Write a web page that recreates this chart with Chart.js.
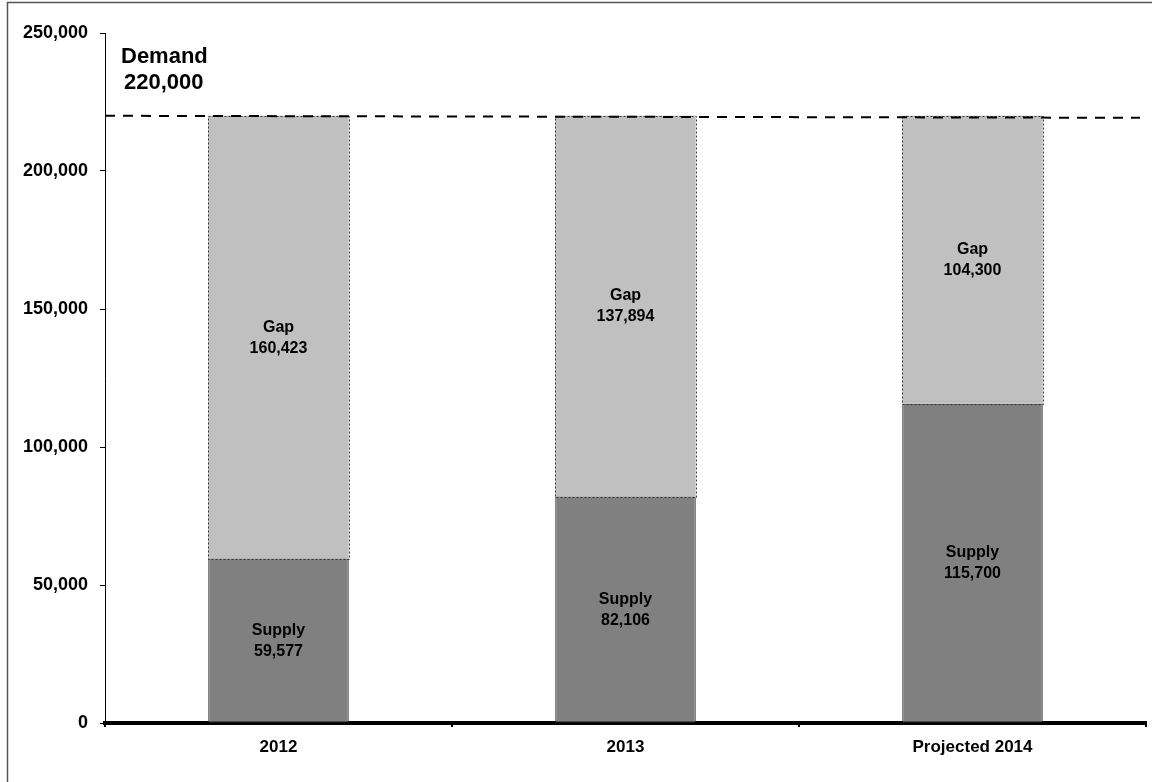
<!DOCTYPE html>
<html>
<head>
<meta charset="utf-8">
<script src="https://cdn.jsdelivr.net/npm/chart.js@4.4.1/dist/chart.umd.min.js"></script>
<style>
  html, body { margin: 0; padding: 0; background: #fff; }
  #wrap { width: 1152px; height: 782px; position: relative; }
</style>
</head>
<body>
<div id="wrap"><canvas id="chart"></canvas></div>
<script>
// data
const categories = ["2012", "2013", "Projected 2014"];
const supply = [59577, 82106, 115700];
const gap = [160423, 137894, 104300];
const demand = 220000;
const yTicks = [0, 50000, 100000, 150000, 200000, 250000];

const FONT = "'Liberation Sans', Arial, sans-serif";
const fmt = v => v.toLocaleString("en-US");

// dashed demand line, demand text, bar labels, frame
const extras = {
  id: "extras",
  afterDatasetsDraw(chart) {
    const ctx = chart.ctx;
    const area = chart.chartArea;
    const y = chart.scales.y;

    ctx.save();
    // frame (top + left edges)
    ctx.strokeStyle = "#555";
    ctx.lineWidth = 1.5;
    ctx.beginPath();
    ctx.moveTo(7.5, 782);
    ctx.lineTo(7.5, 2.5);
    ctx.lineTo(1152, 2.5);
    ctx.stroke();

    // dotted outline of the gap segments
    const gapMeta = chart.getDatasetMeta(1);
    ctx.strokeStyle = "#333";
    ctx.lineWidth = 1;
    ctx.setLineDash([2, 2]);
    gapMeta.data.forEach(bar => {
      const w = bar.width;
      ctx.strokeRect(Math.round(bar.x - w / 2) + 0.5, Math.round(bar.y) + 0.5, Math.round(w), Math.round(bar.base - bar.y));
    });

    // demand line
    const yd = y.getPixelForValue(demand);
    ctx.strokeStyle = "#000";
    ctx.lineWidth = 2;
    ctx.setLineDash([10, 8]);
    ctx.beginPath();
    ctx.moveTo(area.left, yd);
    ctx.lineTo(area.right - 6, yd + 2);
    ctx.stroke();
    ctx.setLineDash([]);

    // demand text
    ctx.fillStyle = "#000";
    ctx.font = "bold 22px " + FONT;
    ctx.textAlign = "left";
    ctx.textBaseline = "alphabetic";
    ctx.fillText("Demand", 121, 63);
    ctx.fillText(fmt(demand), 124, 89);

    // segment labels
    ctx.font = "bold 16px " + FONT;
    ctx.textAlign = "center";
    ctx.textBaseline = "middle";
    const names = ["Supply", "Gap"];
    chart.data.datasets.forEach((ds, di) => {
      const meta = chart.getDatasetMeta(di);
      meta.data.forEach((bar, i) => {
        const mid = (bar.y + bar.base) / 2;
        ctx.fillText(names[di], bar.x, mid - 10);
        ctx.fillText(fmt(ds.data[i]), bar.x, mid + 11);
      });
    });
    ctx.restore();
  }
};

new Chart(document.getElementById("chart"), {
  type: "bar",
  data: {
    labels: categories,
    datasets: [
      {
        label: "Supply",
        data: supply,
        backgroundColor: "#808080",
        borderColor: "#333",
        borderWidth: 1,
        borderSkipped: false
      },
      {
        label: "Gap",
        data: gap,
        backgroundColor: "#C0C0C0",
        borderWidth: 0
      }
    ]
  },
  options: {
    responsive: true,
    maintainAspectRatio: false,
    animation: false,
    layout: { padding: { left: 10, top: 33, right: 6, bottom: 0 } },
    datasets: { bar: { categoryPercentage: 1, barPercentage: 0.405 } },
    plugins: {
      legend: { display: false },
      tooltip: { enabled: false }
    },
    scales: {
      x: {
        stacked: true,
        grid: { display: true, drawOnChartArea: false, drawTicks: true, tickLength: 4, color: "#000", lineWidth: 2, offset: true },
        border: { display: true, color: "#000", width: 4 },
        ticks: { color: "#000", font: { family: FONT, size: 17, weight: "bold" }, padding: 10 },
        afterFit: s => { s.height = 59; }
      },
      y: {
        stacked: true,
        min: 0,
        max: 250000,
        afterBuildTicks: s => { s.ticks = yTicks.map(v => ({ value: v })); },
        grid: { display: true, drawOnChartArea: false, drawTicks: true, tickLength: 5, color: "#000", lineWidth: 1 },
        border: { display: true, color: "#000", width: 1 },
        ticks: { color: "#000", font: { family: FONT, size: 18, weight: "bold" }, padding: 12, callback: v => fmt(v) },
        afterFit: s => { s.width = 95; }
      }
    }
  },
  plugins: [extras]
});
</script>
</body>
</html>
